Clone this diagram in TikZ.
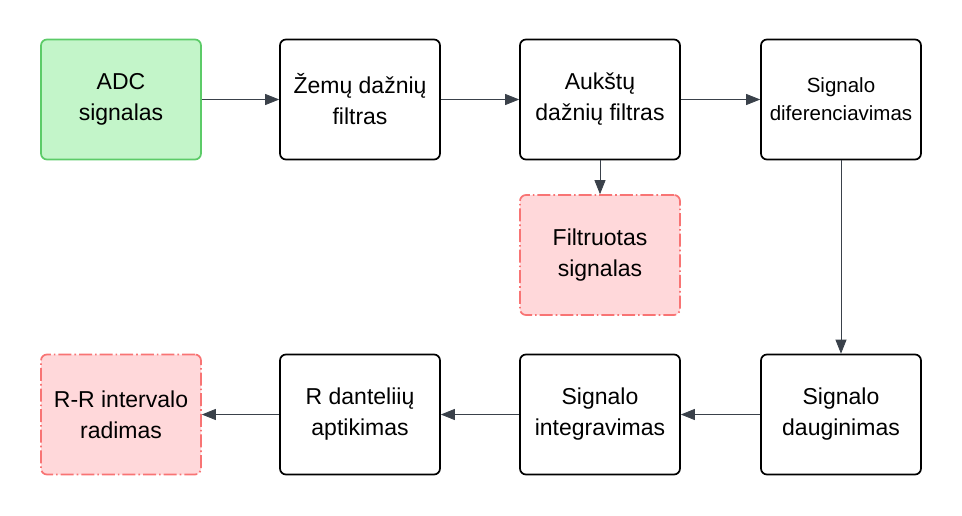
\documentclass[tikz,border=0pt]{standalone}
\usepackage{fontspec}
\setmainfont{Liberation Sans}
\usetikzlibrary{arrows.meta}

\definecolor{clrline}{HTML}{3A414A}
\definecolor{clrgreenfill}{HTML}{C3F5C9}
\definecolor{clrgreen}{HTML}{5CCB68}
\definecolor{clrpinkfill}{HTML}{FFD8DA}
\definecolor{clrpink}{HTML}{F87474}

\tikzset{
	block/.style={draw=black, line width=1.7pt, rounded corners=6pt, fill=white,
		minimum width=160pt, minimum height=120pt, align=center,
		font=\fontsize{23}{31}\selectfont},
	inblock/.style={block, draw=clrgreen, fill=clrgreenfill},
	outblock/.style={block, draw=clrpink, fill=clrpinkfill,
		dash pattern=on 13pt off 3pt on 1.6pt off 3pt},
	link/.style={draw=clrline, line width=0.8pt, -{Triangle[length=14pt,width=11pt]}}
}

\begin{document}
\begin{tikzpicture}[x=1pt,y=-1pt]

\def\colA{121}
\def\colB{360}
\def\colC{600}
\def\colD{841}
\def\rowA{99.5}
\def\rowB{255}
\def\rowC{414.5}

\useasboundingbox (0,0) rectangle (962,515);

% top row
\node[inblock] (adc) at (\colA,\rowA) {ADC\\signalas};
\node[block] (zemu) at (\colB,\rowA) {Žemų dažnių\\filtras};
\node[block] (auk) at (\colC,\rowA) {Aukštų\\dažnių filtras};
\node[block, font=\fontsize{20.5}{28}\selectfont] (dif) at (\colD,\rowA) {Signalo\\diferenciavimas};

\node[outblock] (filt) at (\colC,\rowB) {Filtruotas\\signalas};

% bottom row
\node[block] (daug) at (\colD,\rowC) {Signalo\\dauginimas};
\node[block] (integ) at (\colC,\rowC) {Signalo\\integravimas};
\node[block] (rdant) at (\colB,\rowC) {R danteliių\\aptikimas};
\node[outblock] (rr) at (\colA,\rowC) {R-R intervalo\\radimas};

\draw[link] (adc) -- (zemu);
\draw[link] (zemu) -- (auk);
\draw[link] (auk) -- (dif);
\draw[link] (auk) -- (filt);
\draw[link] (dif) -- (daug);
\draw[link] (daug) -- (integ);
\draw[link] (integ) -- (rdant);
\draw[link] (rdant) -- (rr);

\end{tikzpicture}
\end{document}
